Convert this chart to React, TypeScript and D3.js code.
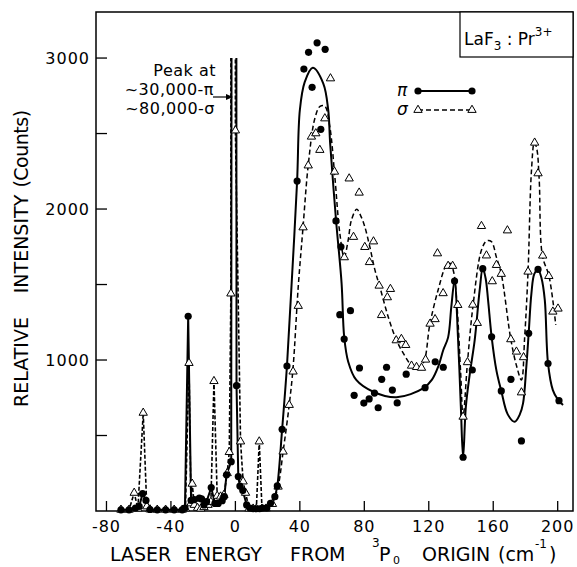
import React from "react";
import * as d3 from "d3";

type P = [number, number];

// axis ticks
const xTicks = [-80, -40, 0, 40, 80, 120, 160, 200];
const yTicks = [500, 1000, 1500, 2000, 2500, 3000];
const yLabels = [1000, 2000, 3000];

// low energy region, points joined point to point (spikes go off scale)
const piLow: P[] = [
  [-71, 8], [-66, 8], [-62, 20], [-59.7, 30], [-57.6, 115], [-55.5, 70], [-53, 10],
  [-48.5, 8], [-43.3, 8], [-38, 8], [-33, 8], [-31.3, 20], [-29.3, 1290], [-27.5, 70],
  [-25.5, 75], [-22.4, 85], [-21, 80], [-19.5, 40], [-17.9, 62], [-15, 155], [-12.7, 50],
  [-10.7, 50], [-8.2, 68], [-6.9, 95], [-5.5, 240], [-2.6, 327], [-0.5, 30000],
  [0.7, 830], [1.8, 228], [2.8, 165], [4.6, 135], [7, 40], [9, 20], [11, 15], [13, 15],
  [15, 15], [17, 20], [19.5, 20], [21.8, 51], [24.5, 95],
];
const sigmaLow: P[] = [
  [-71, 8], [-66, 8], [-62.8, 120], [-60.5, 15], [-57.2, 650], [-55, 30], [-53, 10],
  [-48.5, 8], [-43.3, 8], [-38, 8], [-33, 8], [-31, 15], [-28.8, 980], [-27.6, 50],
  [-26.8, 180], [-25.5, 40], [-23.5, 20], [-21.5, 15], [-19.5, 25], [-17, 40], [-15.2, 60],
  [-13.3, 860], [-11.3, 100], [-9.2, 95], [-7.1, 106], [-5.1, 250], [-3.8, 390],
  [-2.8, 1440], [-1.5, 80000], [0, 2520], [3.2, 460], [4.8, 195], [6.3, 120], [8.5, 15],
  [11, 15], [13, 15], [14.8, 460], [16.5, 15], [19, 15], [23, 46],
];

// measured points above 20 cm-1
const piPts: P[] = [
  [26, 166], [29, 541], [32, 960], [38.3, 2185], [42.5, 2927], [45.4, 3038], [47.6, 2806],
  [50.7, 3101], [53, 2528], [55.7, 3058], [62.4, 1921], [64.8, 1300], [65.5, 1750],
  [67.5, 1139], [71.4, 1327], [73.7, 766], [77, 947], [79.7, 715], [83, 742], [86.3, 781],
  [88.6, 684], [90.8, 872], [93.8, 952], [97.4, 801], [100.4, 716], [106, 906], [117.7, 817],
  [124, 988], [129, 952], [136, 1523], [141.3, 356], [147, 934], [153.5, 1605], [159, 1154],
  [165, 795], [171, 872], [177.5, 464], [182, 1177], [187.8, 1600], [194, 977], [200.8, 731],
];
const sigmaPts: P[] = [
  [26.5, 161], [29.6, 393], [33.4, 702], [35.8, 923], [39, 1358], [42, 1878], [45.2, 2288],
  [47.2, 2479], [49.9, 2501], [52.4, 2391], [55.5, 2600], [59, 2865], [61.5, 2247],
  [67.6, 1680], [70.6, 2202], [73.3, 1815], [76.8, 2108], [80.3, 1748], [83.2, 1648],
  [85.7, 1785], [89.2, 1492], [90.7, 1297], [94.3, 1415], [96.2, 1470], [99.8, 1130],
  [103, 1139], [105.7, 1099], [109.3, 962], [112.4, 953], [115.5, 948], [118, 1002],
  [120.8, 1240], [123.9, 1270], [125.4, 1706], [128.9, 1442], [132, 1623], [134.8, 1623],
  [138, 1364], [141.3, 624], [144, 985], [147.3, 1366], [150.1, 1245], [152.7, 1887],
  [155.8, 1692], [159.4, 1521], [162, 1629], [165, 1570], [168.8, 1858], [170.9, 1137],
  [174.4, 1055], [177.5, 785], [178.8, 1018], [181.6, 1585], [185.7, 2439], [187.8, 2236],
  [190.7, 1691], [194.5, 1556], [197, 1320], [200.2, 1340],
];

// hand drawn smooth curves through the data
const piFit: P[] = [
  [24.5, 95], [26, 166], [29, 541], [32, 960], [34.8, 1486], [38.3, 2185], [40, 2656],
  [43, 2840], [48, 2935], [54.5, 2832], [57.6, 2656], [58.8, 2435], [62.5, 1921],
  [65.9, 1508], [67.5, 1155], [70, 989], [75, 868], [85.5, 790], [100, 753], [116.5, 812],
  [122, 870], [126, 960], [129, 1066], [132, 1150], [134, 1353], [136, 1527], [138.2, 1132],
  [139.9, 690], [141.3, 354], [143, 690], [145.5, 912], [148.5, 1132], [151.6, 1464],
  [153.5, 1609], [155.3, 1540], [156.8, 1397], [159, 1154], [162, 930], [165, 795],
  [169, 640], [173.3, 591], [176.5, 640], [178.5, 713], [180.5, 950], [182, 1177],
  [183.7, 1442], [185.5, 1570], [187.8, 1600], [190, 1540], [192, 1397], [194, 978],
  [197, 801], [200, 740], [203.3, 702],
];
const sigmaFit: P[] = [
  [23, 46], [26.5, 161], [29.6, 393], [33.4, 702], [35.8, 950], [39, 1486], [42, 1883],
  [45.2, 2291], [49.3, 2600], [52.5, 2680], [55.5, 2682], [58.6, 2545], [61.7, 2214],
  [64.8, 1839], [67.5, 1680], [70, 1795], [72, 1927], [75.3, 1998], [78, 1950], [80.3, 1883],
  [83.4, 1750], [86.5, 1600], [90, 1470], [95, 1280], [100, 1130], [105, 1030], [109.3, 965],
  [113.4, 945], [117, 990], [120.6, 1232], [125.8, 1464], [131, 1629], [133.4, 1640],
  [135.5, 1580], [137.5, 1364], [139.8, 912], [141.3, 624], [144, 982], [147.5, 1364],
  [152.7, 1728], [156, 1790], [158.9, 1784], [162, 1680], [165, 1570], [170.9, 1137],
  [174.5, 960], [177.5, 868], [179.5, 1150], [181.6, 1585], [183.7, 2250], [185.5, 2440],
  [187, 2400], [188.5, 2200], [190.5, 1691], [194.6, 1556], [198.8, 1232],
];

const font = "'DejaVu Sans', sans-serif";

export default function App() {
  const width = 577, height = 567;
  const x = d3.scaleLinear().domain([-86.5, 209.5]).range([96, 573]);
  const y = d3.scaleLinear().domain([0, 3305]).range([511, 12]);

  const straight = d3.line<P>().x(d => x(d[0])).y(d => y(d[1]));
  const smooth = d3.line<P>().x(d => x(d[0])).y(d => y(d[1])).curve(d3.curveCatmullRom.alpha(0.5));
  const tri = d3.symbol(d3.symbolTriangle, 30)() as string;

  const onScale = (d: P) => d[1] <= 3000;
  const dots = [...piLow.filter(onScale), ...piPts];
  const tris = [...sigmaLow.filter(onScale), ...sigmaPts];

  return (
    <svg width={width} height={height} style={{ position: "absolute", left: 0, top: 0 }} fontFamily={font}>
      <defs>
        <clipPath id="cut">
          <rect x={x.range()[0]} y={y(3000)} width={x.range()[1] - x.range()[0]} height={y(0) - y(3000)} />
        </clipPath>
      </defs>
      <rect x={96} y={12} width={477} height={499} fill="white" stroke="black" strokeWidth={1.5} />

      {yTicks.map(t => (
        <line key={"yt" + t} x1={96} x2={107} y1={y(t)} y2={y(t)} stroke="black" strokeWidth={1.3} />
      ))}
      {yLabels.map(t => (
        <text key={"yl" + t} x={90} y={y(t) + 6} textAnchor="end" fontSize={16} letterSpacing={1}>{t}</text>
      ))}
      {xTicks.map(t => (
        <g key={"xt" + t}>
          <line x1={x(t)} x2={x(t)} y1={511} y2={501} stroke="black" strokeWidth={1.3} />
          <text x={x(t)} y={532} textAnchor="middle" fontSize={16} letterSpacing={1}>{t < 0 ? "-" + Math.abs(t) : t}</text>
        </g>
      ))}

      {/* axis titles */}
      <g fontSize={19}>
        <text transform="translate(28,362) rotate(-90)" textAnchor="middle">RELATIVE</text>
        <text transform="translate(28,244) rotate(-90)" textAnchor="middle">INTENSITY</text>
        <text transform="translate(28,149) rotate(-90)" textAnchor="middle" letterSpacing={-0.5}>(Counts)</text>
        <text x={110} y={561}>LASER</text>
        <text x={185} y={561}>ENERGY</text>
        <text x={290} y={561}>FROM</text>
        <text x={372} y={547} fontSize={12}>3</text>
        <text x={379} y={561}>P</text>
        <text x={393} y={564} fontSize={11}>0</text>
        <text x={422} y={561}>ORIGIN</text>
        <text x={498} y={561}>(cm</text>
        <text x={535} y={548} fontSize={12}>-1</text>
        <text x={549} y={561}>)</text>
      </g>

      {/* curves */}
      <path d={smooth(sigmaFit) || ""} fill="none" stroke="black" strokeWidth={1.5} strokeDasharray="5,3" />
      <path d={smooth(piFit) || ""} fill="none" stroke="black" strokeWidth={2} />
      <g clipPath="url(#cut)">
        <path d={straight(sigmaLow) || ""} fill="none" stroke="black" strokeWidth={1.6} strokeDasharray="4,2" />
        <path d={straight(piLow) || ""} fill="none" stroke="black" strokeWidth={2} />
      </g>

      {tris.map((d, i) => (
        <path key={"s" + i} d={tri} transform={`translate(${x(d[0])},${y(d[1])})`} fill="white" stroke="black" strokeWidth={1} />
      ))}
      {dots.map((d, i) => (
        <circle key={"p" + i} cx={x(d[0])} cy={y(d[1])} r={3.6} fill="black" />
      ))}

      {/* peak note */}
      <g fontSize={16} textAnchor="end" letterSpacing={0.5}>
        <text x={216} y={76}>Peak at</text>
        <text x={214} y={95}>~30,000-π</text>
        <text x={215} y={114}>~80,000-σ</text>
      </g>
      <line x1={213} x2={230} y1={97} y2={97} stroke="black" strokeWidth={1.2} />
      <path d="M233,97 L226,94 L226,100 Z" fill="black" />

      {/* sample box */}
      <rect x={460} y={12} width={113} height={45} fill="white" stroke="black" strokeWidth={1.2} />
      <text x={464} y={45} fontSize={17}>
        LaF<tspan dy={5} fontSize={12}>3</tspan><tspan dy={-5}> : Pr</tspan><tspan dy={-9} fontSize={12}>3+</tspan>
      </text>

      {/* legend */}
      <text x={397} y={96} fontSize={17} fontStyle="italic">π</text>
      <line x1={418} x2={472} y1={91} y2={91} stroke="black" strokeWidth={2} />
      <circle cx={418} cy={91} r={3.6} fill="black" />
      <circle cx={472} cy={91} r={3.6} fill="black" />
      <text x={397} y={115} fontSize={17} fontStyle="italic">σ</text>
      <line x1={418} x2={472} y1={110} y2={110} stroke="black" strokeWidth={1.5} strokeDasharray="5,3" />
      <path d={tri} transform="translate(418,110)" fill="white" stroke="black" />
      <path d={tri} transform="translate(472,110)" fill="white" stroke="black" />
    </svg>
  );
}
